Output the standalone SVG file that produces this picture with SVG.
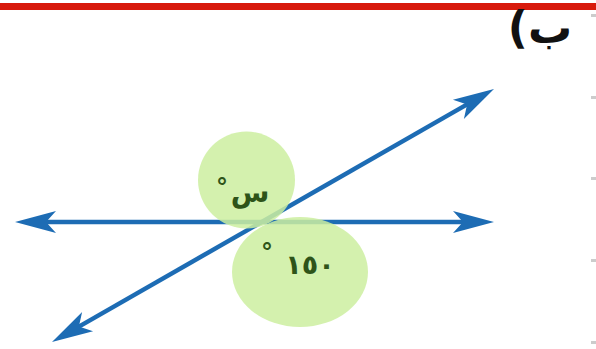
<svg xmlns="http://www.w3.org/2000/svg" width="596" height="349" viewBox="0 0 596 349">
  <style>
    .ln { stroke: #1d6cb4; stroke-width: 4.5; fill: none; marker-start: url(#ah); marker-end: url(#ah); }
    .blob { fill: #cdeea0; fill-opacity: 0.85; }
    .lbl { font-family: "DejaVu Sans", "Liberation Sans", sans-serif; font-weight: bold; fill: #2e5419; }
    .deg { font-family: "DejaVu Sans", "Liberation Sans", sans-serif; font-size: 24px; font-weight: bold; fill: #2e5419; }
    .tick { fill: #cccccc; }
  </style>
  <defs>
    <marker id="ah" markerUnits="userSpaceOnUse" orient="auto-start-reverse" refX="0" refY="0" markerWidth="60" markerHeight="30" overflow="visible">
      <path d="M-10,-11 L31,0 L-10,11 L0,0 Z" fill="#1d6cb4"/>
    </marker>
  </defs>
  <rect x="0" y="0" width="596" height="349" fill="#ffffff"/>
  <rect id="topbar" x="0" y="3" width="596" height="7" fill="#d81a0c"/>
  <g id="ticks">
    <rect class="tick" x="591" y="14" width="5" height="3"/>
    <rect class="tick" x="591" y="96" width="5" height="3"/>
    <rect class="tick" x="591" y="177" width="5" height="3"/>
    <rect class="tick" x="591" y="259" width="5" height="3"/>
    <rect class="tick" x="591" y="341" width="5" height="3"/>
  </g>
  <g id="title">
    <text x="540" y="43" direction="rtl" unicode-bidi="embed" text-anchor="middle" font-family="'DejaVu Sans', 'Liberation Sans', sans-serif" font-weight="bold" font-size="44" fill="#111111">ب)</text>
  </g>
  <g id="connectors">
    <line class="ln" x1="46" y1="222" x2="463" y2="222"/>
    <line class="ln" x1="78.9" y1="326.6" x2="467.1" y2="104.4"/>
  </g>
  <g id="angle-x">
    <circle class="blob" cx="246.5" cy="180" r="48.5"/>
    <text class="deg" x="222" y="196" text-anchor="middle">°</text>
    <text class="lbl" x="250" y="202" text-anchor="middle" font-size="28">س</text>
  </g>
  <g id="angle-150">
    <ellipse class="blob" cx="300" cy="272" rx="68" ry="55"/>
    <text class="deg" x="267" y="261" text-anchor="middle">°</text>
    <text class="lbl" x="310" y="274" text-anchor="middle" font-size="27">١٥٠</text>
  </g>
</svg>
